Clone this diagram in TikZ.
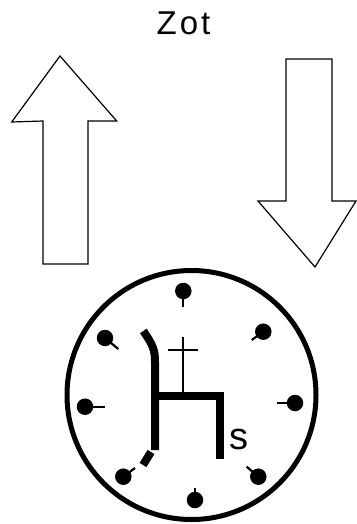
\documentclass[tikz,border=0pt]{standalone}
\usepackage{fontspec}
\setmainfont{Liberation Sans}
\begin{document}
\begin{tikzpicture}[x=1pt,y=-1pt,
  outline/.style={draw=black,line width=1.2pt,line join=miter},
  hstroke/.style={line width=8pt,line cap=butt,line join=miter},
  dot/.style={circle,fill=black,inner sep=0pt,minimum size=16.5pt},
  stem/.style={line width=2.2pt}]
\useasboundingbox (0,0) rectangle (356,524);
\node[anchor=base,inner sep=0pt] (title) at (183.5,35) {\fontsize{33}{33}\selectfont\addfontfeature{LetterSpace=9}Zot};
\draw[outline] (60,56) -- (116.7,121) -- (88,121) -- (88,264) -- (43,264) -- (43,121) -- (11.7,122) -- cycle;
\draw[outline] (286,59) -- (332,59) -- (332,201) -- (356,201) -- (315,267) -- (258,201) -- (286,201) -- cycle;
\node[circle,draw,line width=5pt,minimum size=249pt,inner sep=0pt] (clock) at (191.5,395) {};
% dots
\node[dot] (d1) at (183.3,291) {}; \draw[stem] (d1.center) -- (183.3,307);
\node[dot] (d2) at (263.3,331.7) {}; \draw[stem] (d2.center) -- (251.7,340);
\node[dot] (d3) at (295,403) {}; \draw[stem] (d3.center) -- (276.7,403);
\node[dot] (d4) at (258.3,476.7) {}; \draw[stem] (d4.center) -- (246.7,466.7);
\node[dot] (d5) at (195,500) {}; \draw[stem] (d5.center) -- (195,488);
\node[dot] (d6) at (123.3,476.7) {}; \draw[stem] (d6.center) -- (135,468);
\node[dot] (d7) at (85,406.7) {}; \draw[stem] (d7.center) -- (105,406.7);
\node[dot] (d8) at (105,338) {}; \draw[stem] (d8.center) -- (118.3,349);
% H figure
\draw[hstroke] (143.3,331) .. controls (153,345) and (155,350) .. (155,362) -- (155,450);
\draw[hstroke] (151,452) -- (143,465);
\draw[hstroke] (155,396) -- (220,396) -- (220,459);
\draw[line width=2pt] (183.3,337) -- (183.3,396);
\draw[line width=2pt] (168,350) -- (198,350);
\node[anchor=base,inner sep=0pt] (s) at (239,449.3) {\fontsize{38}{38}\selectfont s};
\end{tikzpicture}
\end{document}
